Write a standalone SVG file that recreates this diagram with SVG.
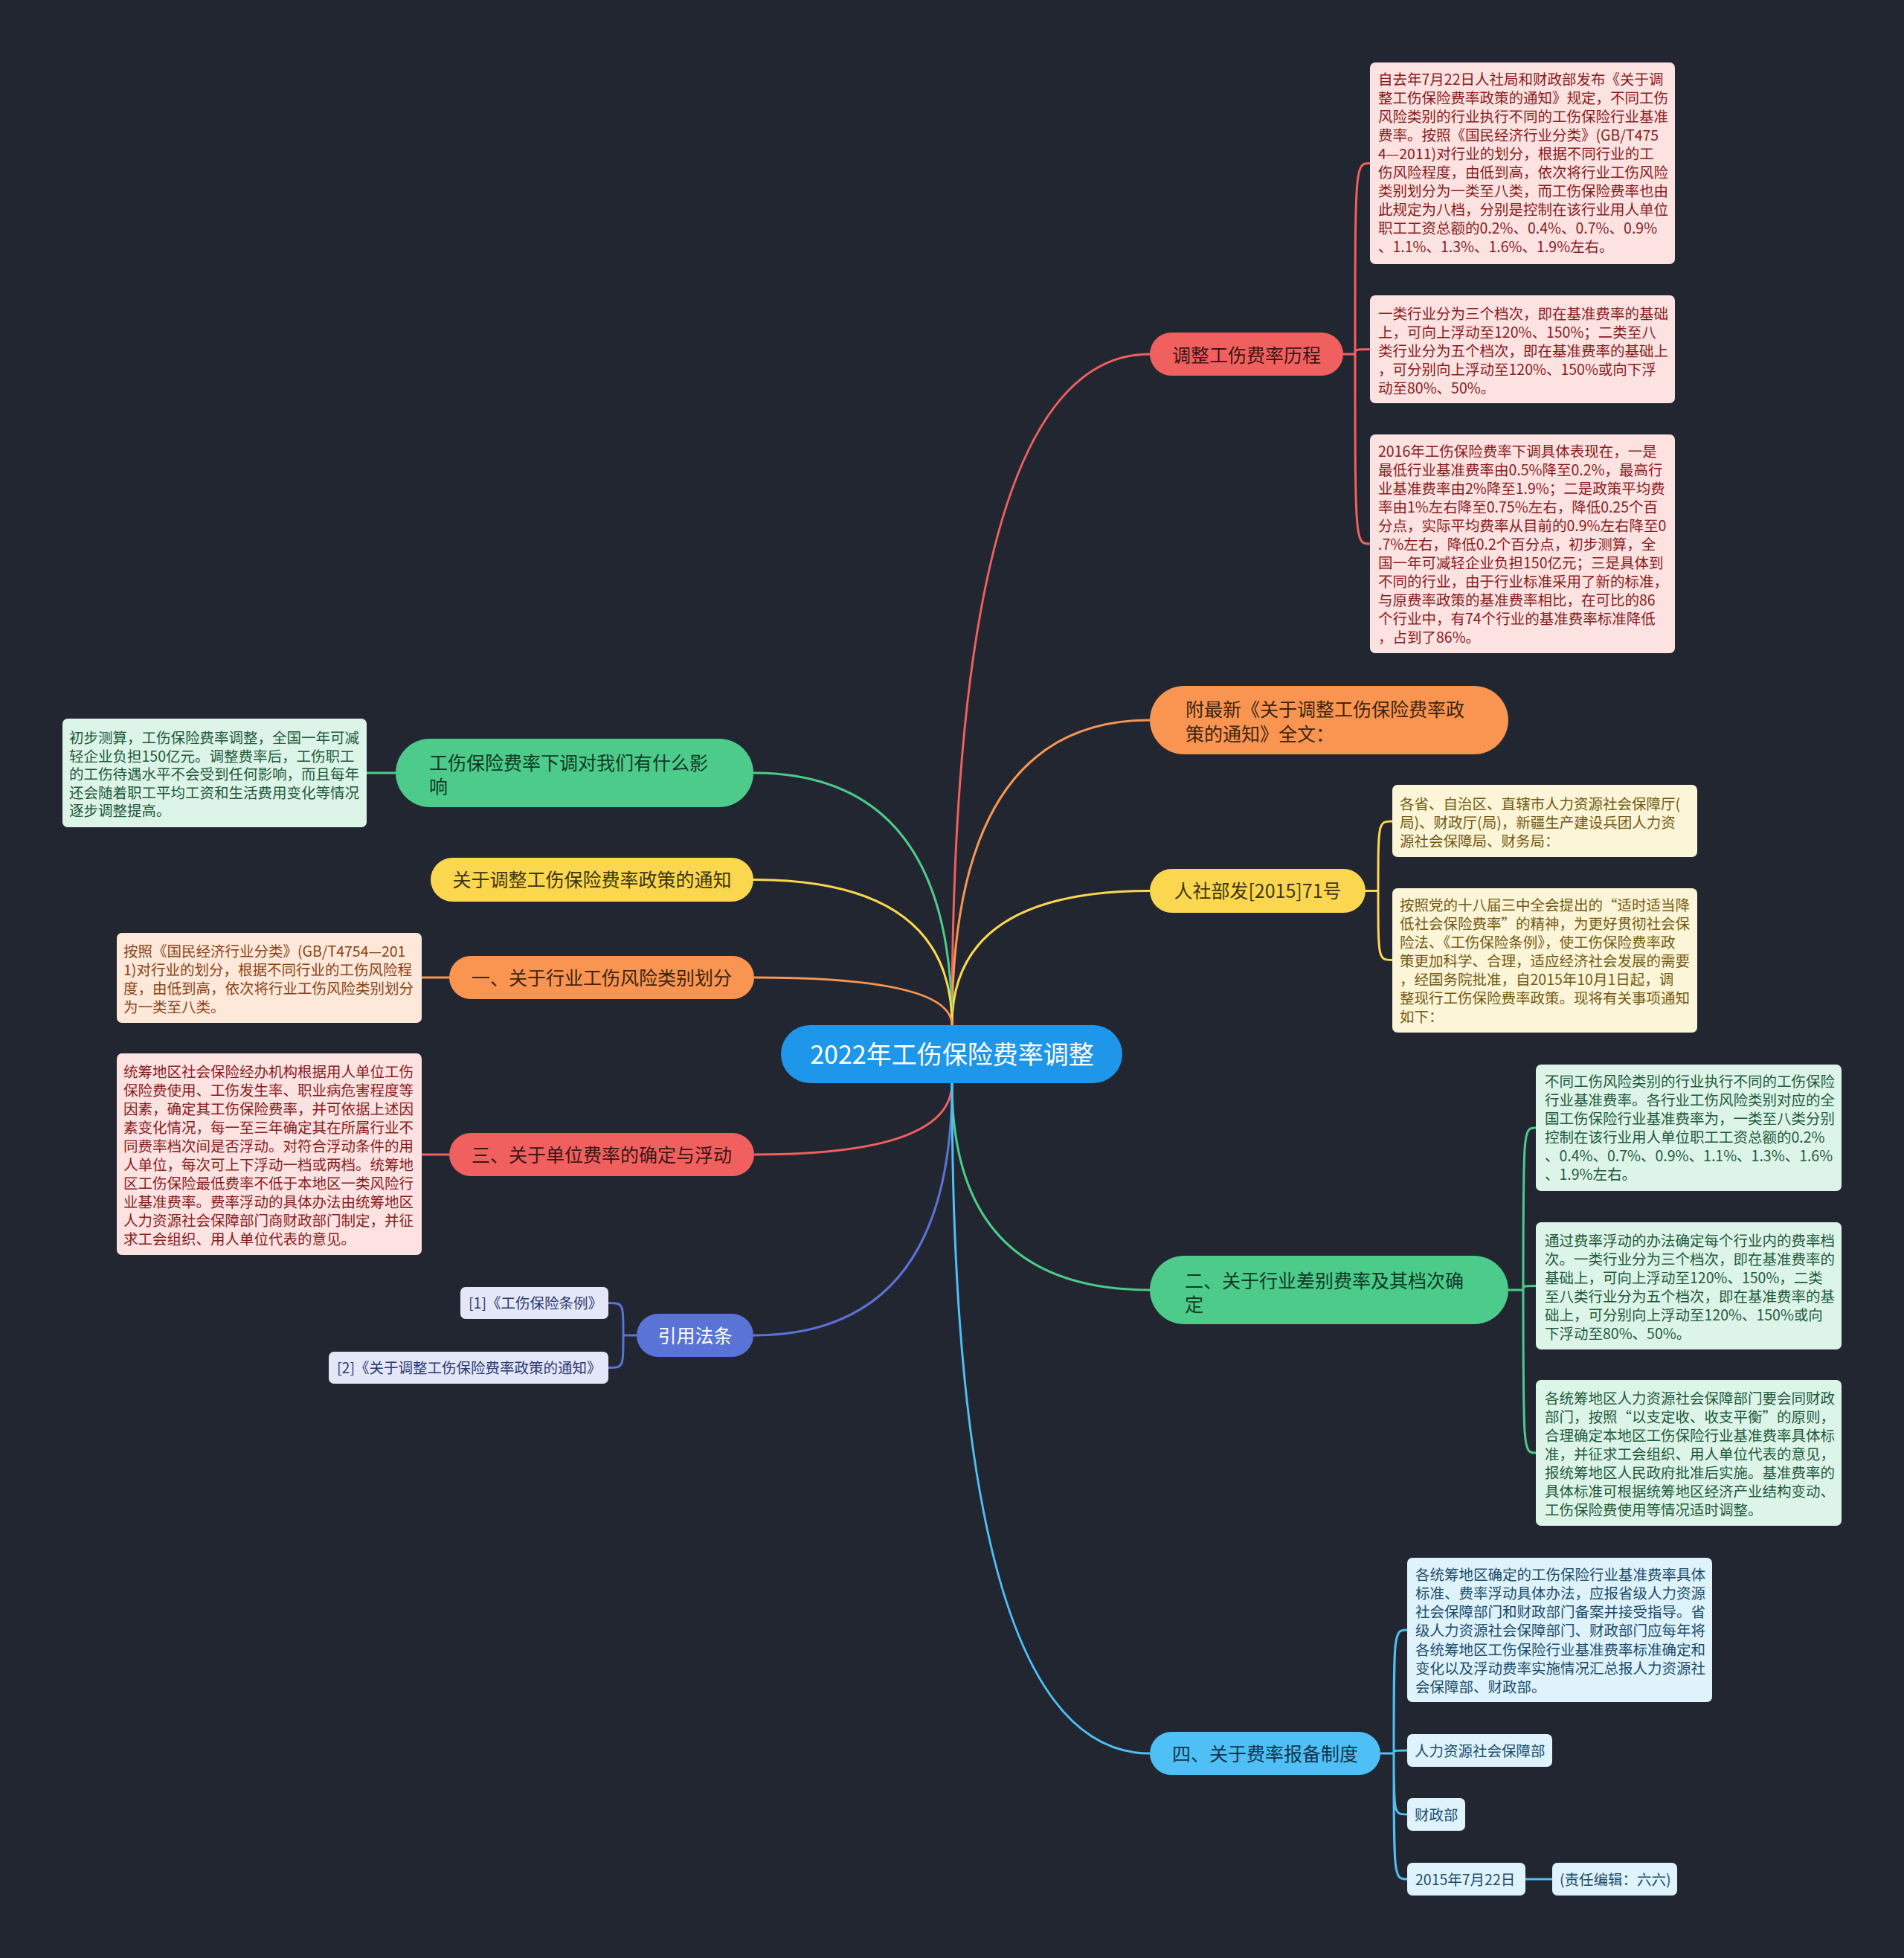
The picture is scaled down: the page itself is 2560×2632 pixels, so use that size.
<svg xmlns="http://www.w3.org/2000/svg" width="2560" height="2632" viewBox="0 0 2560 2632">
<style>
text{font-family:"Noto Sans CJK SC","Noto Sans",sans-serif}
.bt{font-size:19.5px}
.pt{font-size:25px}
.mid{text-anchor:middle}
.c{fill:none;stroke-width:3;stroke-linecap:round;stroke-linejoin:round}
.sr{stroke:#f0605f}.so{stroke:#f99551}.sy{stroke:#fbd74f}.sg{stroke:#4ccb8b}.sb{stroke:#5a73d6}.sl{stroke:#4ec0f5}
.pr{fill:#f0605f}.po{fill:#f99551}.py{fill:#fbd74f}.pg{fill:#4ccb8b}.pb{fill:#5a73d6}.pl{fill:#4ec0f5}
.tr{fill:#3d1515}.to{fill:#40240f}.ty{fill:#3d3510}.tg{fill:#0f3a25}.tb{fill:#ffffff}.tl{fill:#0e3550}
.bxr{fill:#fde2e2}.bxy{fill:#fdf5d7}.bxg{fill:#ddf5e8}.bxo{fill:#fee8da}.bxl{fill:#dff3fd}.bxv{fill:#e4e7f7}
.kr{fill:#8a1c1c}.ky{fill:#735a12}.kg{fill:#1f5a3c}.ko{fill:#8c4416}.kl{fill:#1b4d6b}.kv{fill:#2c3a74}
</style>
<rect x="0" y="0" width="2560" height="2632" fill="#222631"/>

<g id="connectors">
  <path class="c sr" d="M1280 1378 Q1280 476 1546 476"/>
  <path class="c so" d="M1280 1378 Q1280 968 1546 968"/>
  <path class="c sy" d="M1280 1378 Q1280 1197.5 1546 1197.5"/>
  <path class="c sg" d="M1280 1378 Q1280 1039 1013 1039"/>
  <path class="c sy" d="M1280 1378 Q1280 1182.5 1013 1182.5"/>
  <path class="c so" d="M1280 1378 Q1280 1314 1014 1314"/>
  <path class="c sr" d="M1280 1456 Q1280 1552 1014 1552"/>
  <path class="c sb" d="M1280 1456 Q1280 1795 1013 1795"/>
  <path class="c sg" d="M1280 1456 Q1280 1734 1546 1734"/>
  <path class="c sl" d="M1280 1456 Q1280 2357 1546 2357"/>

  <path class="c sr" d="M1806 476 H1822 M1822 476 C1822 219.5 1822 219.5 1842 219.5 M1822 476 C1822 469.5 1822 469.5 1842 469.5 M1822 476 C1822 731 1822 731 1842 731"/>
  <path class="c sy" d="M1836 1197.5 H1853 M1853 1197.5 C1853 1104 1853 1104 1872 1104 M1853 1197.5 C1853 1290.5 1853 1290.5 1872 1290.5"/>
  <path class="c sg" d="M2028 1734 H2048 M2048 1734 C2048 1516 2048 1516 2065 1516 M2048 1734 C2048 1728.5 2048 1728.5 2065 1728.5 M2048 1734 C2048 1953 2048 1953 2065 1953"/>
  <path class="c sl" d="M1856 2357 H1874 M1874 2357 C1874 2191 1874 2191 1892 2191 M1874 2357 C1874 2353 1874 2353 1892 2353 M1874 2357 C1874 2439 1874 2439 1892 2439 M1874 2357 C1874 2526 1874 2526 1892 2526 M2051 2526 H2087"/>
  <path class="c sg" d="M532 1039 H493"/>
  <path class="c so" d="M604 1314 H567"/>
  <path class="c sr" d="M604 1552 H567"/>
  <path class="c sb" d="M856 1795 H838 M838 1795 C838 1751.5 838 1751.5 818 1751.5 M838 1795 C838 1838.5 838 1838.5 818 1838.5"/>
</g>

<g id="root">
  <rect x="1050" y="1378" width="459" height="78" rx="39" fill="#1e96ea"/>
  <text x="1280" y="1430" class="mid" font-size="34" fill="#ffffff">2022年工伤保险费率调整</text>
</g>

<g id="n-lishi">
  <rect class="pr" x="1546" y="447" width="260" height="58" rx="29"/>
  <text class="pt tr mid" x="1676" y="486.5">调整工伤费率历程</text>
</g>
<g id="n-lishi-1">
  <rect class="bxr" x="1842" y="84" width="410" height="271" rx="7"/>
  <text class="bt kr">
    <tspan x="1853" y="114">自去年7月22日人社局和财政部发布《关于调</tspan>
    <tspan x="1853" y="139">整工伤保险费率政策的通知》规定，不同工伤</tspan>
    <tspan x="1853" y="164">风险类别的行业执行不同的工伤保险行业基准</tspan>
    <tspan x="1853" y="189">费率。按照《国民经济行业分类》(GB/T475</tspan>
    <tspan x="1853" y="214">4—2011)对行业的划分，根据不同行业的工</tspan>
    <tspan x="1853" y="239">伤风险程度，由低到高，依次将行业工伤风险</tspan>
    <tspan x="1853" y="264">类别划分为一类至八类，而工伤保险费率也由</tspan>
    <tspan x="1853" y="289">此规定为八档，分别是控制在该行业用人单位</tspan>
    <tspan x="1853" y="314">职工工资总额的0.2%、0.4%、0.7%、0.9%</tspan>
    <tspan x="1853" y="339">、1.1%、1.3%、1.6%、1.9%左右。</tspan>
  </text>
</g>
<g id="n-lishi-2">
  <rect class="bxr" x="1842" y="397" width="410" height="145" rx="7"/>
  <text class="bt kr">
    <tspan x="1853" y="429">一类行业分为三个档次，即在基准费率的基础</tspan>
    <tspan x="1853" y="454">上，可向上浮动至120%、150%；二类至八</tspan>
    <tspan x="1853" y="479">类行业分为五个档次，即在基准费率的基础上</tspan>
    <tspan x="1853" y="504">，可分别向上浮动至120%、150%或向下浮</tspan>
    <tspan x="1853" y="529">动至80%、50%。</tspan>
  </text>
</g>
<g id="n-lishi-3">
  <rect class="bxr" x="1842" y="584" width="410" height="294" rx="7"/>
  <text class="bt kr">
    <tspan x="1853" y="614">2016年工伤保险费率下调具体表现在，一是</tspan>
    <tspan x="1853" y="639">最低行业基准费率由0.5%降至0.2%，最高行</tspan>
    <tspan x="1853" y="664">业基准费率由2%降至1.9%；二是政策平均费</tspan>
    <tspan x="1853" y="689">率由1%左右降至0.75%左右，降低0.25个百</tspan>
    <tspan x="1853" y="714">分点，实际平均费率从目前的0.9%左右降至0</tspan>
    <tspan x="1853" y="739">.7%左右，降低0.2个百分点，初步测算，全</tspan>
    <tspan x="1853" y="764">国一年可减轻企业负担150亿元；三是具体到</tspan>
    <tspan x="1853" y="789">不同的行业，由于行业标准采用了新的标准，</tspan>
    <tspan x="1853" y="814">与原费率政策的基准费率相比，在可比的86</tspan>
    <tspan x="1853" y="839">个行业中，有74个行业的基准费率标准降低</tspan>
    <tspan x="1853" y="864">，占到了86%。</tspan>
  </text>
</g>

<g id="n-quanwen">
  <rect class="po" x="1546" y="922" width="482" height="92" rx="46"/>
  <text class="pt to">
    <tspan x="1594" y="962.5">附最新《关于调整工伤保险费率政</tspan>
    <tspan x="1594" y="995.5">策的通知》全文：</tspan>
  </text>
</g>

<g id="n-71hao">
  <rect class="py" x="1546" y="1168" width="290" height="59" rx="29.5"/>
  <text class="pt ty mid" x="1691" y="1207">人社部发[2015]71号</text>
</g>
<g id="n-71hao-1">
  <rect class="bxy" x="1872" y="1055" width="410" height="97" rx="7"/>
  <text class="bt ky">
    <tspan x="1882" y="1087.5">各省、自治区、直辖市人力资源社会保障厅(</tspan>
    <tspan x="1882" y="1112.5">局)、财政厅(局)，新疆生产建设兵团人力资</tspan>
    <tspan x="1882" y="1137.5">源社会保障局、财务局：</tspan>
  </text>
</g>
<g id="n-71hao-2">
  <rect class="bxy" x="1872" y="1194" width="410" height="194" rx="7"/>
  <text class="bt ky">
    <tspan x="1882" y="1224">按照党的十八届三中全会提出的“适时适当降</tspan>
    <tspan x="1882" y="1249">低社会保险费率”的精神，为更好贯彻社会保</tspan>
    <tspan x="1882" y="1274">险法、《工伤保险条例》，使工伤保险费率政</tspan>
    <tspan x="1882" y="1299">策更加科学、合理，适应经济社会发展的需要</tspan>
    <tspan x="1882" y="1324">，经国务院批准，自2015年10月1日起，调</tspan>
    <tspan x="1882" y="1349">整现行工伤保险费率政策。现将有关事项通知</tspan>
    <tspan x="1882" y="1374">如下：</tspan>
  </text>
</g>

<g id="n-er">
  <rect class="pg" x="1546" y="1688" width="482" height="92" rx="46"/>
  <text class="pt tg">
    <tspan x="1593" y="1731">二、关于行业差别费率及其档次确</tspan>
    <tspan x="1593" y="1763">定</tspan>
  </text>
</g>
<g id="n-er-1">
  <rect class="bxg" x="2065" y="1431" width="411" height="170" rx="7"/>
  <text class="bt kg">
    <tspan x="2077" y="1460.5">不同工伤风险类别的行业执行不同的工伤保险</tspan>
    <tspan x="2077" y="1485.5">行业基准费率。各行业工伤风险类别对应的全</tspan>
    <tspan x="2077" y="1510.5">国工伤保险行业基准费率为，一类至八类分别</tspan>
    <tspan x="2077" y="1535.5">控制在该行业用人单位职工工资总额的0.2%</tspan>
    <tspan x="2077" y="1560.5">、0.4%、0.7%、0.9%、1.1%、1.3%、1.6%</tspan>
    <tspan x="2077" y="1585.5">、1.9%左右。</tspan>
  </text>
</g>
<g id="n-er-2">
  <rect class="bxg" x="2065" y="1643" width="411" height="171" rx="7"/>
  <text class="bt kg">
    <tspan x="2077" y="1674.5">通过费率浮动的办法确定每个行业内的费率档</tspan>
    <tspan x="2077" y="1699.5">次。一类行业分为三个档次，即在基准费率的</tspan>
    <tspan x="2077" y="1724.5">基础上，可向上浮动至120%、150%，二类</tspan>
    <tspan x="2077" y="1749.5">至八类行业分为五个档次，即在基准费率的基</tspan>
    <tspan x="2077" y="1774.5">础上，可分别向上浮动至120%、150%或向</tspan>
    <tspan x="2077" y="1799.5">下浮动至80%、50%。</tspan>
  </text>
</g>
<g id="n-er-3">
  <rect class="bxg" x="2065" y="1855" width="411" height="196" rx="7"/>
  <text class="bt kg">
    <tspan x="2077" y="1886.5">各统筹地区人力资源社会保障部门要会同财政</tspan>
    <tspan x="2077" y="1911.5">部门，按照“以支定收、收支平衡”的原则，</tspan>
    <tspan x="2077" y="1936.5">合理确定本地区工伤保险行业基准费率具体标</tspan>
    <tspan x="2077" y="1961.5">准，并征求工会组织、用人单位代表的意见，</tspan>
    <tspan x="2077" y="1986.5">报统筹地区人民政府批准后实施。基准费率的</tspan>
    <tspan x="2077" y="2011.5">具体标准可根据统筹地区经济产业结构变动、</tspan>
    <tspan x="2077" y="2036.5">工伤保险费使用等情况适时调整。</tspan>
  </text>
</g>

<g id="n-si">
  <rect class="pl" x="1546" y="2328" width="310" height="58" rx="29"/>
  <text class="pt tl mid" x="1701" y="2366.5">四、关于费率报备制度</text>
</g>
<g id="n-si-1">
  <rect class="bxl" x="1892" y="2094" width="410" height="194" rx="7"/>
  <text class="bt kl">
    <tspan x="1903" y="2123.5">各统筹地区确定的工伤保险行业基准费率具体</tspan>
    <tspan x="1903" y="2148.8">标准、费率浮动具体办法，应报省级人力资源</tspan>
    <tspan x="1903" y="2174.1">社会保障部门和财政部门备案并接受指导。省</tspan>
    <tspan x="1903" y="2199.4">级人力资源社会保障部门、财政部门应每年将</tspan>
    <tspan x="1903" y="2224.7">各统筹地区工伤保险行业基准费率标准确定和</tspan>
    <tspan x="1903" y="2250">变化以及浮动费率实施情况汇总报人力资源社</tspan>
    <tspan x="1903" y="2275.3">会保障部、财政部。</tspan>
  </text>
</g>
<g id="n-si-2">
  <rect class="bxl" x="1892" y="2331" width="195" height="44" rx="7"/>
  <text class="bt kl" x="1902" y="2360.5">人力资源社会保障部</text>
</g>
<g id="n-si-3">
  <rect class="bxl" x="1892" y="2417" width="78" height="44" rx="7"/>
  <text class="bt kl" x="1902" y="2446.5">财政部</text>
</g>
<g id="n-si-4">
  <rect class="bxl" x="1892" y="2504" width="159" height="44" rx="7"/>
  <text class="bt kl" x="1903" y="2533.5">2015年7月22日</text>
</g>
<g id="n-si-5">
  <rect class="bxl" x="2087" y="2504" width="168" height="44" rx="7"/>
  <text class="bt kl" x="2097" y="2533.5">(责任编辑：六六)</text>
</g>

<g id="n-yingxiang">
  <rect class="pg" x="532" y="993" width="481" height="92" rx="46"/>
  <text class="pt tg">
    <tspan x="577" y="1034.5">工伤保险费率下调对我们有什么影</tspan>
    <tspan x="577" y="1066.5">响</tspan>
  </text>
</g>
<g id="n-yingxiang-1">
  <rect class="bxg" x="84" y="966" width="409" height="146" rx="7"/>
  <text class="bt kg">
    <tspan x="93" y="999">初步测算，工伤保险费率调整，全国一年可减</tspan>
    <tspan x="93" y="1023.6">轻企业负担150亿元。调整费率后，工伤职工</tspan>
    <tspan x="93" y="1048.2">的工伤待遇水平不会受到任何影响，而且每年</tspan>
    <tspan x="93" y="1072.8">还会随着职工平均工资和生活费用变化等情况</tspan>
    <tspan x="93" y="1097.4">逐步调整提高。</tspan>
  </text>
</g>

<g id="n-tongzhi">
  <rect class="py" x="579" y="1153" width="434" height="59" rx="29.5"/>
  <text class="pt ty mid" x="796" y="1192">关于调整工伤保险费率政策的通知</text>
</g>

<g id="n-yi">
  <rect class="po" x="604" y="1285" width="410" height="58" rx="29"/>
  <text class="pt to mid" x="809" y="1323.5">一、关于行业工伤风险类别划分</text>
</g>
<g id="n-yi-1">
  <rect class="bxo" x="157" y="1254" width="410" height="121" rx="7"/>
  <text class="bt ko">
    <tspan x="166" y="1285.5">按照《国民经济行业分类》(GB/T4754—201</tspan>
    <tspan x="166" y="1310.8">1)对行业的划分，根据不同行业的工伤风险程</tspan>
    <tspan x="166" y="1336.1">度，由低到高，依次将行业工伤风险类别划分</tspan>
    <tspan x="166" y="1361.4">为一类至八类。</tspan>
  </text>
</g>

<g id="n-san">
  <rect class="pr" x="604" y="1523" width="410" height="58" rx="29"/>
  <text class="pt tr mid" x="809" y="1561.5">三、关于单位费率的确定与浮动</text>
</g>
<g id="n-san-1">
  <rect class="bxr" x="157" y="1416" width="410" height="271" rx="7"/>
  <text class="bt kr">
    <tspan x="166" y="1447.5">统筹地区社会保险经办机构根据用人单位工伤</tspan>
    <tspan x="166" y="1472.5">保险费使用、工伤发生率、职业病危害程度等</tspan>
    <tspan x="166" y="1497.5">因素，确定其工伤保险费率，并可依据上述因</tspan>
    <tspan x="166" y="1522.5">素变化情况，每一至三年确定其在所属行业不</tspan>
    <tspan x="166" y="1547.5">同费率档次间是否浮动。对符合浮动条件的用</tspan>
    <tspan x="166" y="1572.5">人单位，每次可上下浮动一档或两档。统筹地</tspan>
    <tspan x="166" y="1597.5">区工伤保险最低费率不低于本地区一类风险行</tspan>
    <tspan x="166" y="1622.5">业基准费率。费率浮动的具体办法由统筹地区</tspan>
    <tspan x="166" y="1647.5">人力资源社会保障部门商财政部门制定，并征</tspan>
    <tspan x="166" y="1672.5">求工会组织、用人单位代表的意见。</tspan>
  </text>
</g>

<g id="n-fatiao">
  <rect class="pb" x="856" y="1766" width="157" height="58" rx="29"/>
  <text class="pt tb mid" x="934.5" y="1804.5">引用法条</text>
</g>
<g id="n-fatiao-1">
  <rect class="bxv" x="619" y="1730" width="199" height="43" rx="7"/>
  <text class="bt kv" x="630" y="1759">[1]《工伤保险条例》</text>
</g>
<g id="n-fatiao-2">
  <rect class="bxv" x="442" y="1817" width="376" height="43" rx="7"/>
  <text class="bt kv" x="453" y="1846">[2]《关于调整工伤保险费率政策的通知》</text>
</g>
</svg>
